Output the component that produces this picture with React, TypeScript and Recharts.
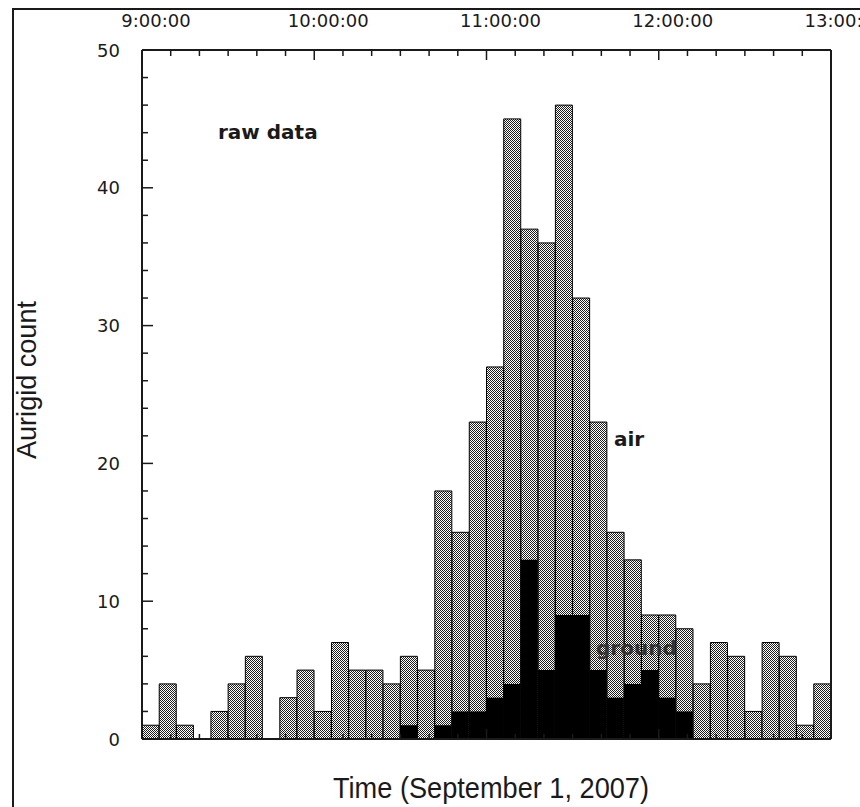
import { Bar, BarChart, XAxis, YAxis } from 'recharts'

// 6-minute bins starting at 9:00 (September 1, 2007)
const binStarts = [
  '9:00', '9:06', '9:12', '9:18', '9:24', '9:30', '9:36', '9:42', '9:48', '9:54',
  '10:00', '10:06', '10:12', '10:18', '10:24', '10:30', '10:36', '10:42', '10:48', '10:54',
  '11:00', '11:06', '11:12', '11:18', '11:24', '11:30', '11:36', '11:42', '11:48', '11:54',
  '12:00', '12:06', '12:12', '12:18', '12:24', '12:30', '12:36', '12:42', '12:48', '12:54',
]

const airCounts = [
  1, 4, 1, 0, 2, 4, 6, 0, 3, 5,
  2, 7, 5, 5, 4, 6, 5, 18, 15, 23,
  27, 45, 37, 36, 46, 32, 23, 15, 13, 9,
  9, 8, 4, 7, 6, 2, 7, 6, 1, 4,
]

const groundCounts = [
  0, 0, 0, 0, 0, 0, 0, 0, 0, 0,
  0, 0, 0, 0, 0, 1, 0, 1, 2, 2,
  3, 4, 13, 5, 9, 9, 5, 3, 4, 5,
  3, 2, 0, 0, 0, 0, 0, 0, 0, 0,
]

// minutes after 9:00
const timeTicks = [0, 10, 20, 30, 40, 50, 60, 70, 80, 90, 100, 110, 120, 130, 140, 150, 160, 170, 180, 190, 200, 210, 220, 230, 240]
const hourTicks = [0, 60, 120, 180, 240]
const hourLabels = ['9:00:00', '10:00:00', '11:00:00', '12:00:00', '13:00:00']

const countTicks = [0, 2, 4, 6, 8, 10, 12, 14, 16, 18, 20, 22, 24, 26, 28, 30, 32, 34, 36, 38, 40, 42, 44, 46, 48, 50]
const countLabels = [0, 10, 20, 30, 40, 50]

const BIN_MINUTES = 6
const INK = '#1a1a1a'
const TICK_FONT = '"DejaVu Sans", sans-serif'

function toMinutes(label: string): number {
  const [h, m] = label.split(':').map(Number)
  return (h - 9) * 60 + m
}

const data = binStarts.map((label, i) => ({
  t: toMinutes(label) + BIN_MINUTES / 2,
  air: airCounts[i],
  ground: groundCounts[i],
}))

function TopTick(props: any) {
  const { x, y, payload } = props
  const idx = hourTicks.indexOf(payload.value)
  const major = idx >= 0
  return (
    <g>
      <line x1={x} x2={x} y1={y} y2={y + (major ? 10 : 6)} stroke={INK} strokeWidth={1.5} />
      {major && (
        <text x={x + 14} y={y - 23} textAnchor="middle" fontSize={18} fontFamily={TICK_FONT} fill={INK}>
          {hourLabels[idx]}
        </text>
      )}
    </g>
  )
}

function BottomTick(props: any) {
  const { x, y, payload } = props
  const major = hourTicks.includes(payload.value)
  return <line x1={x} x2={x} y1={y} y2={y - (major ? 10 : 5)} stroke={INK} strokeWidth={1.5} />
}

function LeftTick(props: any) {
  const { x, y, payload } = props
  const major = countLabels.includes(payload.value)
  return (
    <g>
      <line x1={x} x2={x + (major ? 11 : 6)} y1={y} y2={y} stroke={INK} strokeWidth={1.5} />
      {major && (
        <text x={x - 22} y={y + 6.5} textAnchor="end" fontSize={18} fontFamily={TICK_FONT} fill={INK}>
          {payload.value}
        </text>
      )}
    </g>
  )
}

function RightTick(props: any) {
  const { x, y, payload } = props
  const major = countLabels.includes(payload.value)
  return <line x1={x} x2={x - (major ? 10 : 5)} y1={y} y2={y} stroke={INK} strokeWidth={1.5} />
}

export default function App() {
  const axisLine = { stroke: INK, strokeWidth: 2 }
  return (
    <div style={{ position: 'absolute', left: 0, top: 0, width: 860, height: 807, overflow: 'hidden', background: '#fff' }}>
      <BarChart
        width={860}
        height={807}
        data={data}
        margin={{ top: 49, right: 28, bottom: 67, left: 141 }}
        barCategoryGap={0}
        barGap="-100%"
      >
        <defs>
          <pattern id="dither" width="2" height="2" patternUnits="userSpaceOnUse">
            <rect width="2" height="2" fill="#ffffff" />
            <rect width="1" height="1" fill="#1e1e1e" />
            <rect x="1" y="1" width="1" height="1" fill="#1e1e1e" />
          </pattern>
        </defs>
        <Bar dataKey="air" xAxisId="bottom" yAxisId="left" fill="url(#dither)" stroke="#000" strokeWidth={1} isAnimationActive={false} />
        <Bar dataKey="ground" xAxisId="bottom" yAxisId="left" fill="#000" isAnimationActive={false} />
        <XAxis
          xAxisId="bottom"
          dataKey="t"
          type="number"
          domain={[0, 240]}
          ticks={timeTicks}
          interval={0}
          height={1}
          tickSize={0}
          tickMargin={0}
          tickLine={false}
          axisLine={axisLine}
          tick={<BottomTick />}
        />
        <XAxis
          xAxisId="top"
          orientation="top"
          dataKey="t"
          type="number"
          domain={[0, 240]}
          ticks={timeTicks}
          interval={0}
          height={1}
          tickSize={0}
          tickMargin={0}
          tickLine={false}
          axisLine={axisLine}
          tick={<TopTick />}
        />
        <YAxis
          yAxisId="left"
          type="number"
          domain={[0, 50]}
          ticks={countTicks}
          interval={0}
          width={1}
          tickSize={0}
          tickMargin={0}
          tickLine={false}
          axisLine={axisLine}
          tick={<LeftTick />}
        />
        <YAxis
          yAxisId="right"
          orientation="right"
          type="number"
          domain={[0, 50]}
          ticks={countTicks}
          interval={0}
          width={1}
          tickSize={0}
          tickMargin={0}
          tickLine={false}
          axisLine={axisLine}
          tick={<RightTick />}
        />
      </BarChart>
      <svg width={860} height={807} style={{ position: 'absolute', left: 0, top: 0, pointerEvents: 'none' }}>
        <line x1={12} x2={860} y1={9} y2={9} stroke={INK} strokeWidth={2} />
        <line x1={13} x2={13} y1={8} y2={807} stroke={INK} strokeWidth={2} />
        <text x={218} y={139} fontSize={20} fontWeight="bold" fontFamily={TICK_FONT} fill={INK}>raw data</text>
        <text x={614} y={446} fontSize={20} fontWeight="bold" fontFamily={TICK_FONT} fill={INK}>air</text>
        <text x={596} y={655} fontSize={20} fontWeight="bold" fontFamily={TICK_FONT} fill="#333">ground</text>
        <text
          x={333}
          y={798}
          fontSize={29}
          fontFamily='"Liberation Sans", Arial, sans-serif'
          fill={INK}
          textLength={316}
          lengthAdjust="spacingAndGlyphs"
        >
          Time (September 1, 2007)
        </text>
        <text
          x={0}
          y={0}
          transform="translate(36 380) rotate(-90)"
          textAnchor="middle"
          fontSize={28}
          fontFamily='"Liberation Sans", Arial, sans-serif'
          fill={INK}
          textLength={158}
          lengthAdjust="spacingAndGlyphs"
        >
          Aurigid count
        </text>
      </svg>
    </div>
  )
}
